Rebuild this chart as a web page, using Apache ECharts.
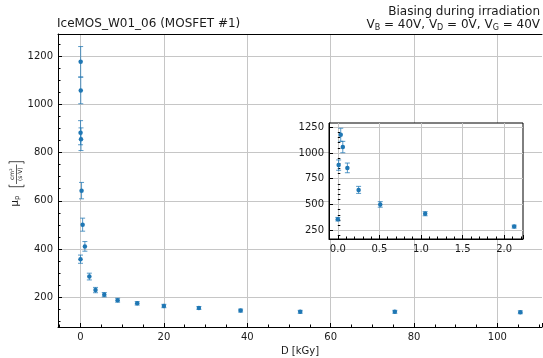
<!DOCTYPE html>
<html><head><meta charset="utf-8">
<script src="https://cdn.jsdelivr.net/npm/echarts@6/dist/echarts.min.js"></script>
<style>html,body{margin:0;padding:0;background:#fff}#c{width:543px;height:358px}</style>
</head><body><div id="c"></div>
<script>
// ---- data ----
const doses = [0, 0.01, 0.035, 0.06, 0.115, 0.25, 0.51, 1.05, 2.12, 3.6, 5.7, 8.9, 13.6, 20.0, 28.4, 38.4, 52.7, 75.4, 105.5];
const mobility = [358, 882, 1176, 1057, 855, 642, 501, 411, 286, 230, 211, 188, 175, 164, 156, 145, 140, 140, 138];
const mobilityErr = [17, 50, 63, 55, 47, 34, 27, 20, 14, 11, 9, 8, 7, 7, 6, 6, 6, 6, 6];
const mainXRange = [-5.4, 110.7];
const mainYRange = [77, 1291];
const insetXRange = [-0.106, 2.226];
const insetYRange = [166, 1290];
const insetYTicks = [250, 500, 750, 1000, 1250];
const insetYMinorStep = 50;
const titleLeft = 'IceMOS_W01_06 (MOSFET #1)';
const titleRight1 = 'Biasing during irradiation';
const xName = 'D [kGy]';

// ---- build ----
const FONT = 'DejaVu Sans';
const BLUE = '#1f77b4';
const ERR = 'rgba(31,119,180,0.75)';
const GRID = '#c6c6c6';
const rows = doses.map((d, i) => [d, mobility[i], mobilityErr[i]]);
const insetRows = rows.filter(r => r[0] <= insetXRange[1]);
const insetMinor = [];
for (let v = Math.ceil(insetYRange[0] / insetYMinorStep) * insetYMinorStep; v < insetYRange[1]; v += insetYMinorStep) {
  if (insetYTicks.indexOf(v) < 0) insetMinor.push(v);
}

function errRender(params, api) {
  const x = api.value(0), y = api.value(1), e = api.value(2);
  const lo = api.coord([x, y - e]), hi = api.coord([x, y + e]);
  const c = 2.5;
  const style = { stroke: ERR, lineWidth: 1 };
  return { type: 'group', children: [
    { type: 'line', shape: { x1: lo[0], y1: lo[1], x2: hi[0], y2: hi[1] }, style },
    { type: 'line', shape: { x1: lo[0] - c, y1: lo[1], x2: lo[0] + c, y2: lo[1] }, style },
    { type: 'line', shape: { x1: hi[0] - c, y1: hi[1], x2: hi[0] + c, y2: hi[1] }, style }
  ]};
}

const labelStyle = { color: '#1a1a1a', fontSize: 10, fontFamily: FONT };
const blackLine = { color: '#000', width: 1 };
const plain = v => String(v);

const chart = echarts.init(document.getElementById('c'), null, { renderer: 'canvas' });
chart.setOption({
  animation: false,
  backgroundColor: '#fff',
  textStyle: { fontFamily: FONT },
  grid: [
    { left: 58, top: 34, right: 1, bottom: 31, show: false, containLabel: false, outerBoundsMode: 'none' },
    { left: 329, top: 123, width: 194, height: 116, show: true, backgroundColor: '#fff',
      borderColor: '#000', borderWidth: 1, z: 3, containLabel: false, outerBoundsMode: 'none' }
  ],
  xAxis: [
    { type: 'value', gridIndex: 0, min: mainXRange[0], max: mainXRange[1], splitNumber: 5,
      axisLine: { show: true, onZero: false, lineStyle: blackLine },
      axisTick: { show: true, inside: true, length: 4, lineStyle: blackLine },
      minorTick: { show: true, splitNumber: 4, length: 2.5, lineStyle: blackLine },
      axisLabel: Object.assign({ showMinLabel: false, showMaxLabel: false, margin: 5, formatter: plain }, labelStyle),
      splitLine: { show: true, showMinLine: false, showMaxLine: false, lineStyle: { color: GRID, width: 1 } },
      name: xName, nameLocation: 'middle', nameGap: 18, nameTextStyle: labelStyle },
    { type: 'value', gridIndex: 0, position: 'top', min: mainXRange[0], max: mainXRange[1],
      axisLine: { show: true, onZero: false, lineStyle: blackLine },
      axisTick: { show: false }, axisLabel: { show: false }, splitLine: { show: false } },
    { type: 'value', gridIndex: 1, min: insetXRange[0], max: insetXRange[1], splitNumber: 5, z: 4,
      axisLine: { show: true, onZero: false, lineStyle: blackLine },
      axisTick: { show: true, inside: true, length: 4, lineStyle: blackLine },
      minorTick: { show: true, splitNumber: 5, length: 2.5, lineStyle: blackLine },
      axisLabel: Object.assign({ showMinLabel: false, showMaxLabel: false, margin: 5,
        formatter: v => v.toFixed(1) }, labelStyle),
      splitLine: { show: true, showMinLine: false, showMaxLine: false, lineStyle: { color: GRID, width: 1 } } }
  ],
  yAxis: [
    { type: 'value', gridIndex: 0, min: mainYRange[0], max: mainYRange[1], splitNumber: 5,
      axisLine: { show: true, onZero: false, lineStyle: blackLine },
      axisTick: { show: true, inside: true, length: 4, lineStyle: blackLine },
      minorTick: { show: true, splitNumber: 4, length: 2.5, lineStyle: blackLine },
      axisLabel: Object.assign({ showMinLabel: false, showMaxLabel: false, margin: 5, formatter: plain }, labelStyle),
      splitLine: { show: true, showMinLine: false, showMaxLine: false, lineStyle: { color: GRID, width: 1 } } },
    { type: 'value', gridIndex: 1, min: insetYRange[0], max: insetYRange[1], z: 4,
      axisLine: { show: true, onZero: false, lineStyle: blackLine },
      axisTick: { show: true, inside: true, length: 4, customValues: insetYTicks, lineStyle: blackLine },
      axisLabel: Object.assign({ margin: 5, customValues: insetYTicks, formatter: plain }, labelStyle),
      splitLine: { show: true, lineStyle: { color: GRID, width: 1 } } },
    { type: 'value', gridIndex: 1, min: insetYRange[0], max: insetYRange[1], z: 4, position: 'left',
      axisLine: { show: false },
      axisTick: { show: true, inside: true, length: 2.5, customValues: insetMinor, lineStyle: blackLine },
      axisLabel: { show: false }, splitLine: { show: false } }
  ],
  series: [
    { type: 'custom', xAxisIndex: 0, yAxisIndex: 0, renderItem: errRender, data: rows,
      encode: { x: 0, y: 1 }, z: 2 },
    { type: 'scatter', xAxisIndex: 0, yAxisIndex: 0, data: rows.map(r => [r[0], r[1]]),
      symbol: 'circle', symbolSize: 4.5, itemStyle: { color: BLUE, opacity: 1 }, z: 3 },
    { type: 'custom', xAxisIndex: 2, yAxisIndex: 1, renderItem: errRender, data: insetRows,
      encode: { x: 0, y: 1 }, z: 5, clip: true },
    { type: 'scatter', xAxisIndex: 2, yAxisIndex: 1, data: insetRows.map(r => [r[0], r[1]]),
      symbol: 'circle', symbolSize: 4.5, itemStyle: { color: BLUE, opacity: 1 }, z: 6 }
  ],
  graphic: [
    { type: 'text', left: 57, top: 18, style: { text: titleLeft, font: '12px "DejaVu Sans"', fill: '#1a1a1a' } },
    { type: 'text', x: 540, y: 12, style: { text: titleRight1, font: '12px "DejaVu Sans"', fill: '#1a1a1a',
      align: 'right', verticalAlign: 'middle' } },
    { type: 'text', x: 540, y: 25, style: {
      text: 'V{s|B} = 40V, V{s|D} = 0V, V{s|G} = 40V', font: '12px "DejaVu Sans"', fill: '#1a1a1a',
      align: 'right', verticalAlign: 'middle', lineHeight: 14,
      rich: { s: { fontSize: 8, fontFamily: FONT, lineHeight: 6, verticalAlign: 'bottom', fill: '#1a1a1a' } } } },
    { type: 'group', x: 16, y: 180, rotation: Math.PI / 2, children: [
      { type: 'text', x: -21, y: -1, style: { text: 'μ{s|p}', font: '10px "DejaVu Sans"', fill: '#1a1a1a',
        align: 'center', verticalAlign: 'middle', lineHeight: 12,
        rich: { s: { fontSize: 7, fontFamily: FONT, lineHeight: 5, verticalAlign: 'bottom', fill: '#1a1a1a' } } } },
      { type: 'polyline', shape: { points: [[-4.7, -7], [-6.7, -7], [-6.7, 8], [-4.7, 8]] },
        style: { stroke: '#1a1a1a', lineWidth: 0.8, fill: null } },
      { type: 'polyline', shape: { points: [[16.3, -7], [18.3, -7], [18.3, 8], [16.3, 8]] },
        style: { stroke: '#1a1a1a', lineWidth: 0.8, fill: null } },
      { type: 'text', x: 5.8, y: -4, style: { text: 'cm²', font: '6px "DejaVu Sans"', fill: '#1a1a1a',
        align: 'center', verticalAlign: 'middle' } },
      { type: 'line', shape: { x1: -4, y1: 0.5, x2: 15.5, y2: 0.5 }, style: { stroke: '#1a1a1a', lineWidth: 0.7 } },
      { type: 'text', x: 5.8, y: 4.5, style: { text: '(s·V)', font: '6px "DejaVu Sans"', fill: '#1a1a1a',
        align: 'center', verticalAlign: 'middle' } }
    ]}
  ]
});
</script>
</body></html>
